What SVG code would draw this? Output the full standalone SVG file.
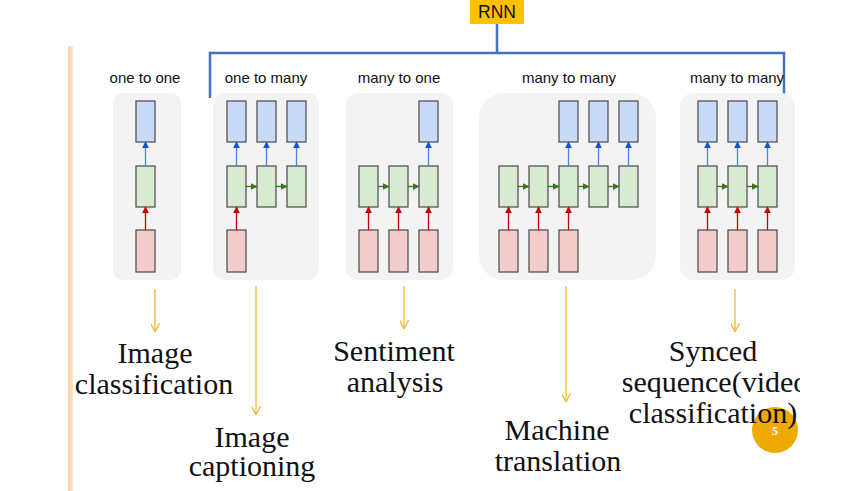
<svg xmlns="http://www.w3.org/2000/svg" width="847" height="491" viewBox="0 0 847 491">
<style>
.panel{fill:#f3f3f3}
.cb{fill:#c9daf8;stroke:#555;stroke-width:1.3}
.cg{fill:#d9ead3;stroke:#555;stroke-width:1.3}
.cr{fill:#f4cccc;stroke:#555;stroke-width:1.3}
.ab{stroke:#4a86e8;stroke-width:1.3;marker-end:url(#mb)}
.ar{stroke:#cc0000;stroke-width:1.3;marker-end:url(#mr)}
.ag{stroke:#38761d;stroke-width:1.3;marker-end:url(#mg)}
.lab{font-family:"Liberation Sans",Arial,sans-serif;font-size:15px;fill:#111;text-anchor:middle}
.ser{font-family:"Liberation Serif","Times New Roman",serif;font-size:30px;fill:#111;text-anchor:middle}
.br{fill:none;stroke:#4472c4;stroke-width:2.5}
.oa{fill:none;stroke:#f2b835;stroke-width:1.3;marker-end:url(#mo)}
</style>
<defs>
<marker id="mb" viewBox="0 0 10 10" refX="9" refY="5" markerWidth="7" markerHeight="7" markerUnits="userSpaceOnUse" orient="auto"><path d="M0,0 L10,5 L0,10 z" fill="#1155cc"/></marker>
<marker id="mr" viewBox="0 0 10 10" refX="9" refY="5" markerWidth="7" markerHeight="7" markerUnits="userSpaceOnUse" orient="auto"><path d="M0,0 L10,5 L0,10 z" fill="#cc0000"/></marker>
<marker id="mg" viewBox="0 0 10 10" refX="9" refY="5" markerWidth="7" markerHeight="7" markerUnits="userSpaceOnUse" orient="auto"><path d="M0,0 L10,5 L0,10 z" fill="#38761d"/></marker>
<marker id="mo" viewBox="0 0 10 10" refX="10" refY="5" markerWidth="9" markerHeight="9" markerUnits="userSpaceOnUse" orient="auto"><path d="M0,0 L10,5 L0,10" fill="none" stroke="#f2b835" stroke-width="1.4"/></marker>
<linearGradient id="bar" x1="0" x2="1" y1="0" y2="0"><stop offset="0" stop-color="#f7d2a6"/><stop offset="1" stop-color="#fbe6cc"/></linearGradient>
<clipPath id="clipr"><rect x="0" y="0" width="800" height="491"/></clipPath>
</defs>
<rect x="0" y="0" width="847" height="491" fill="#fff"/>
<rect x="68" y="46" width="5" height="445" fill="url(#bar)"/>

<g id="connectors">
<path class="br" d="M497,24 V53"/>
<path class="br" d="M210,98 V53 H784 V98"/>
<line class="oa" x1="155" y1="289" x2="155" y2="332"/>
<line class="oa" x1="256" y1="286" x2="256" y2="415"/>
<line class="oa" x1="404" y1="286" x2="404" y2="329"/>
<line class="oa" x1="566" y1="286" x2="566" y2="402"/>
<line class="oa" x1="735" y1="289" x2="735" y2="332"/>
</g>

<g id="rnn">
<rect x="470" y="0" width="54" height="24" fill="#ffc000"/>
<text x="497" y="18" font-family="'Liberation Sans',Arial,sans-serif" font-size="17.5" fill="#111" text-anchor="middle">RNN</text>
</g>

<g id="one-to-one">
<text class="lab" x="145" y="83">one to one</text>
<rect class="panel" x="113" y="93" width="68" height="187" rx="10"/>
<rect class="cb" x="136" y="101" width="19" height="41"/>
<rect class="cg" x="136" y="166" width="19" height="41"/>
<rect class="cr" x="136" y="230" width="19" height="42"/>
<line class="ab" x1="145.5" y1="166" x2="145.5" y2="142"/>
<line class="ar" x1="145.5" y1="230" x2="145.5" y2="207"/>
</g>

<g id="one-to-many">
<text class="lab" x="266" y="83">one to many</text>
<rect class="panel" x="213" y="93" width="106" height="187" rx="12"/>
<rect class="cb" x="227" y="101" width="19" height="41"/>
<rect class="cb" x="257" y="101" width="19" height="41"/>
<rect class="cb" x="287" y="101" width="19" height="41"/>
<rect class="cg" x="227" y="166" width="19" height="41"/>
<rect class="cg" x="257" y="166" width="19" height="41"/>
<rect class="cg" x="287" y="166" width="19" height="41"/>
<rect class="cr" x="227" y="230" width="19" height="42"/>
<line class="ab" x1="236.5" y1="166" x2="236.5" y2="142"/>
<line class="ab" x1="266.5" y1="166" x2="266.5" y2="142"/>
<line class="ab" x1="296.5" y1="166" x2="296.5" y2="142"/>
<line class="ag" x1="246" y1="186.5" x2="257" y2="186.5"/>
<line class="ag" x1="276" y1="186.5" x2="287" y2="186.5"/>
<line class="ar" x1="236.5" y1="230" x2="236.5" y2="207"/>
</g>

<g id="many-to-one">
<text class="lab" x="399" y="83">many to one</text>
<rect class="panel" x="346" y="93" width="107" height="187" rx="12"/>
<rect class="cb" x="419" y="101" width="19" height="41"/>
<rect class="cg" x="359" y="166" width="19" height="41"/>
<rect class="cg" x="389" y="166" width="19" height="41"/>
<rect class="cg" x="419" y="166" width="19" height="41"/>
<rect class="cr" x="359" y="230" width="19" height="42"/>
<rect class="cr" x="389" y="230" width="19" height="42"/>
<rect class="cr" x="419" y="230" width="19" height="42"/>
<line class="ab" x1="428.5" y1="166" x2="428.5" y2="142"/>
<line class="ag" x1="378" y1="186.5" x2="389" y2="186.5"/>
<line class="ag" x1="408" y1="186.5" x2="419" y2="186.5"/>
<line class="ar" x1="368.5" y1="230" x2="368.5" y2="207"/>
<line class="ar" x1="398.5" y1="230" x2="398.5" y2="207"/>
<line class="ar" x1="428.5" y1="230" x2="428.5" y2="207"/>
</g>

<g id="many-to-many-1">
<text class="lab" x="569" y="83">many to many</text>
<rect class="panel" x="479" y="93" width="177" height="187" rx="25"/>
<rect class="cb" x="559" y="101" width="19" height="41"/>
<rect class="cb" x="589" y="101" width="19" height="41"/>
<rect class="cb" x="619" y="101" width="19" height="41"/>
<rect class="cg" x="499" y="166" width="19" height="41"/>
<rect class="cg" x="529" y="166" width="19" height="41"/>
<rect class="cg" x="559" y="166" width="19" height="41"/>
<rect class="cg" x="589" y="166" width="19" height="41"/>
<rect class="cg" x="619" y="166" width="19" height="41"/>
<rect class="cr" x="499" y="230" width="19" height="42"/>
<rect class="cr" x="529" y="230" width="19" height="42"/>
<rect class="cr" x="559" y="230" width="19" height="42"/>
<line class="ab" x1="568.5" y1="166" x2="568.5" y2="142"/>
<line class="ab" x1="598.5" y1="166" x2="598.5" y2="142"/>
<line class="ab" x1="628.5" y1="166" x2="628.5" y2="142"/>
<line class="ag" x1="518" y1="186.5" x2="529" y2="186.5"/>
<line class="ag" x1="548" y1="186.5" x2="559" y2="186.5"/>
<line class="ag" x1="578" y1="186.5" x2="589" y2="186.5"/>
<line class="ag" x1="608" y1="186.5" x2="619" y2="186.5"/>
<line class="ar" x1="508.5" y1="230" x2="508.5" y2="207"/>
<line class="ar" x1="538.5" y1="230" x2="538.5" y2="207"/>
<line class="ar" x1="568.5" y1="230" x2="568.5" y2="207"/>
</g>

<g id="many-to-many-2">
<rect class="panel" x="680" y="93" width="115" height="187" rx="14"/>
<text class="lab" x="737" y="83">many to many</text>
<rect class="cb" x="698" y="101" width="19" height="41"/>
<rect class="cb" x="728" y="101" width="19" height="41"/>
<rect class="cb" x="758" y="101" width="19" height="41"/>
<rect class="cg" x="698" y="166" width="19" height="41"/>
<rect class="cg" x="728" y="166" width="19" height="41"/>
<rect class="cg" x="758" y="166" width="19" height="41"/>
<rect class="cr" x="698" y="230" width="19" height="42"/>
<rect class="cr" x="728" y="230" width="19" height="42"/>
<rect class="cr" x="758" y="230" width="19" height="42"/>
<line class="ab" x1="707.5" y1="166" x2="707.5" y2="142"/>
<line class="ab" x1="737.5" y1="166" x2="737.5" y2="142"/>
<line class="ab" x1="767.5" y1="166" x2="767.5" y2="142"/>
<line class="ag" x1="717" y1="186.5" x2="728" y2="186.5"/>
<line class="ag" x1="747" y1="186.5" x2="758" y2="186.5"/>
<line class="ar" x1="707.5" y1="230" x2="707.5" y2="207"/>
<line class="ar" x1="737.5" y1="230" x2="737.5" y2="207"/>
<line class="ar" x1="767.5" y1="230" x2="767.5" y2="207"/>
</g>

<g id="page-number">
<circle cx="775" cy="430" r="23" fill="#eeaa00"/>
<text x="775" y="435" font-family="'Liberation Serif',serif" font-size="12" font-weight="bold" fill="#fff" text-anchor="middle">5</text>
</g>

<g id="label-image-classification">
<text class="ser" x="155" y="363">Image</text>
<text class="ser" x="154" y="394">classification</text>
</g>
<g id="label-image-captioning">
<text class="ser" x="252" y="447">Image</text>
<text class="ser" x="252" y="476">captioning</text>
</g>
<g id="label-sentiment">
<text class="ser" x="394" y="361">Sentiment</text>
<text class="ser" x="395" y="392">analysis</text>
</g>
<g id="label-machine-translation">
<text class="ser" x="557" y="440">Machine</text>
<text class="ser" x="558" y="471">translation</text>
</g>
<g id="label-synced">
<text class="ser" x="713" y="361">Synced</text>
<text class="ser" x="715" y="392" clip-path="url(#clipr)">sequence(video</text>
<text class="ser" x="713" y="423">classification)</text>
</g>
</svg>
